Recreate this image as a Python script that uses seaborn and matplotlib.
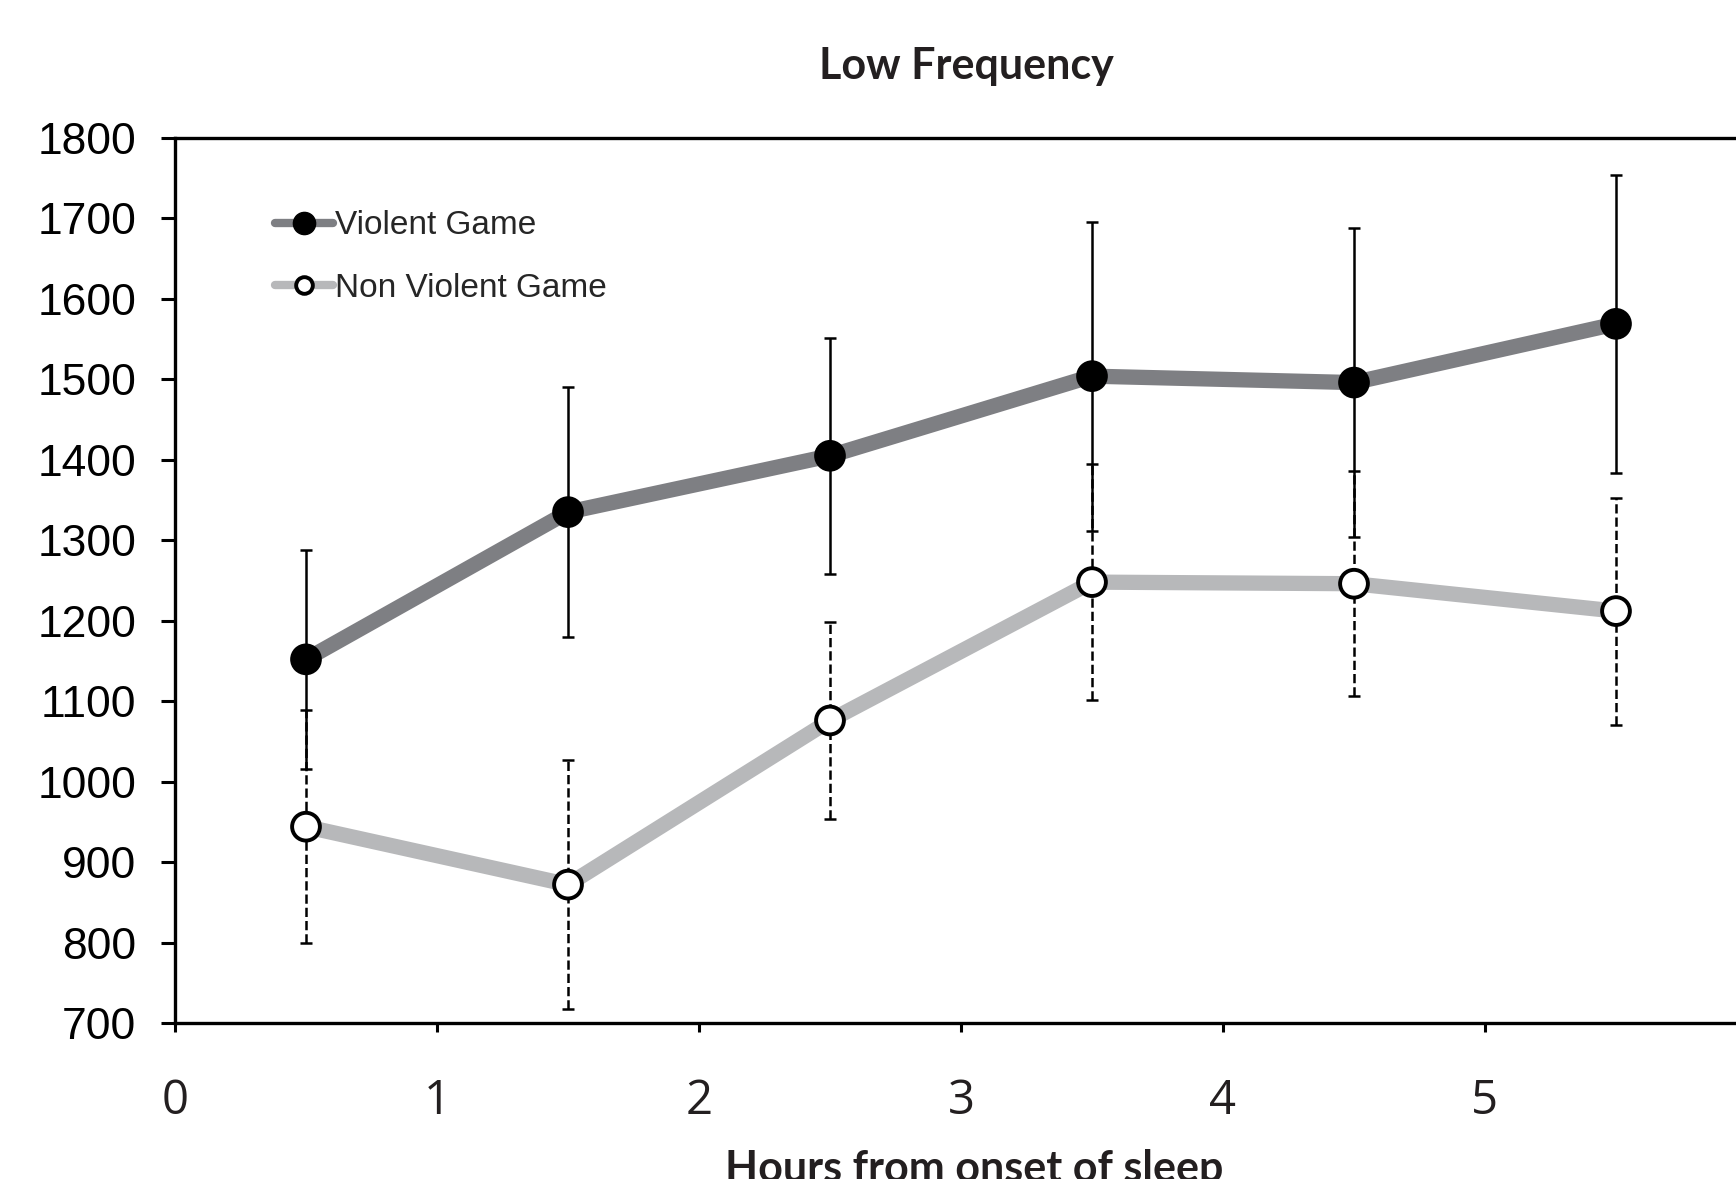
import numpy as np
import matplotlib
matplotlib.use("Agg")
import matplotlib.pyplot as plt
import pandas as pd
import seaborn as sns
from matplotlib.lines import Line2D

# values
hours = [0.5, 1.5, 2.5, 3.5, 4.5, 5.5]
violent = [1152, 1335, 1405, 1504, 1496, 1569]
violent_err = [136, 155, 147, 192, 192, 185]
nonviolent = [944, 872, 1076, 1248, 1246, 1212]
nonviolent_err = [145, 155, 123, 147, 140, 141]
groups = ["Violent Game", "Non Violent Game"]
x_ticks = [0, 1, 2, 3, 4, 5]
y_ticks = [700, 800, 900, 1000, 1100, 1200, 1300, 1400, 1500, 1600, 1700, 1800]

df = pd.DataFrame({
    "hours": hours * 2,
    "value": violent + nonviolent,
    "err": violent_err + nonviolent_err,
    "group": [groups[0]] * 6 + [groups[1]] * 6,
})

line_col = {groups[0]: "#7e7f83", groups[1]: "#b7b8ba"}
face_col = {groups[0]: "black", groups[1]: "white"}

sns.set_style("white")
plt.rcParams["font.family"] = ["Liberation Sans", "DejaVu Sans"]

fig = plt.figure(figsize=(17.36, 11.79), dpi=100)
ax = fig.add_axes([175 / 1736, 1 - 1023 / 1179, 1572 / 1736, 885 / 1179])

sns.lineplot(data=df, x="hours", y="value", hue="group", palette=line_col,
             linewidth=11, legend=False, ax=ax, zorder=1)

# error bars, dashed for the non violent group
for g, ls in zip(groups, ["-", "--"]):
    sub = df[df.group == g]
    eb = ax.errorbar(sub.hours, sub.value, yerr=sub.err, fmt="none",
                     ecolor="black", elinewidth=1.8, capsize=4, capthick=1.8,
                     zorder=2)
    eb[2][0].set_linestyle(ls)

sns.scatterplot(data=df, x="hours", y="value", hue="group", palette=face_col,
                s=400, edgecolor="black", linewidth=2.8, legend=False, ax=ax,
                zorder=3)

ax.set_xlim(0, 6)
ax.set_ylim(700, 1800)
ax.set_xticks(x_ticks)
ax.set_yticks(y_ticks)
ax.set_xlabel("")
ax.set_ylabel("")

for s in ["left", "bottom", "top"]:
    ax.spines[s].set_color("black")
    ax.spines[s].set_linewidth(2.4)
ax.spines["right"].set_visible(False)

ax.tick_params(axis="y", direction="out", length=10, width=2.2, pad=18,
               labelsize=32, left=True, colors="black")
ax.tick_params(axis="x", direction="out", length=6.5, width=2.2, pad=33,
               labelsize=34, bottom=True, colors="black")
for lab in ax.get_xticklabels():
    lab.set_family(["Open Sans", "DejaVu Sans"])
    lab.set_color("#231f20")

handles = [
    Line2D([], [], color=line_col[groups[0]], lw=6, marker="o", markersize=16,
           markerfacecolor="black", markeredgecolor="black"),
    Line2D([], [], color=line_col[groups[1]], lw=6, marker="o", markersize=12,
           markerfacecolor="white", markeredgecolor="black", markeredgewidth=2.8),
]
ax.legend(handles, groups, loc="center left", frameon=False, fontsize=24,
          handlelength=1.75, handletextpad=0.05, labelspacing=0.95,
          borderpad=0, borderaxespad=0,
          bbox_to_anchor=(100 / 1572, 1 - (257 - 138) / 885))

fig.text(966 / 1736, 1 - 66 / 1179, "Low Frequency", ha="center", va="center",
         fontsize=31, fontweight="bold", family=["Lato", "DejaVu Sans"],
         color="#231f20")
fig.text(974 / 1736, 1 - 1182 / 1179, "Hours from onset of sleep", ha="center",
         va="baseline", fontsize=31, fontweight="bold",
         family=["Lato", "DejaVu Sans"], color="#231f20")

fig.savefig("out.png", dpi=100)
